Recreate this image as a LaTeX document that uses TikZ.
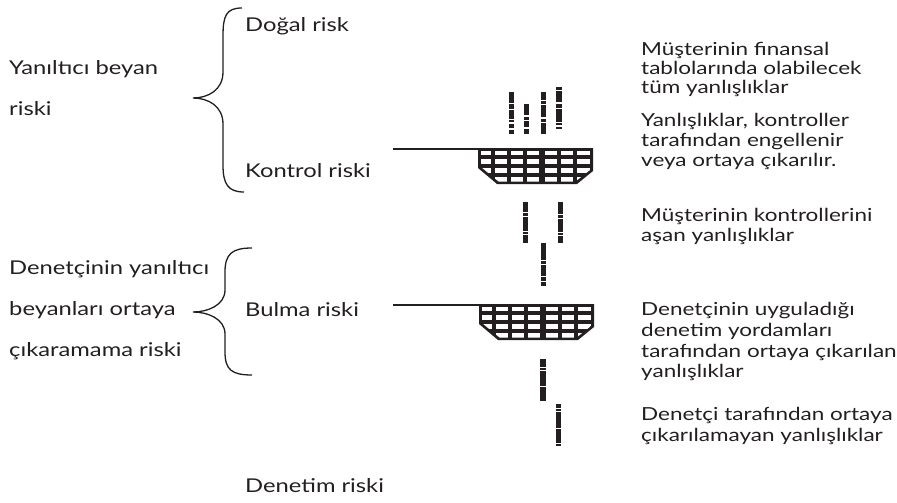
\documentclass[tikz,border=0pt]{standalone}
\usepackage{fontspec}
\setmainfont{Lato}[FakeStretch=1.25]
\definecolor{ink}{HTML}{231F20}
\tikzset{
 lbl/.style={anchor=mid west, inner sep=0pt, text=ink, font=\fontsize{19}{22}\selectfont},
 rlbl/.style={lbl, font=\fontsize{18}{22}\selectfont},
 bracestroke/.style={draw=ink, line width=1.3pt},
 rod/.style={draw=ink, line width=1.2pt},
}
\newcommand\basket[2]{%
 \begin{scope}[shift={(#1,#2)}]
  \fill[ink] (0,0) -- (115,0) -- (115,23) -- (99,36) -- (19,36) -- (0,20) -- cycle;
  \begin{scope}
   \clip (3,3) -- (112,3) -- (112,22) -- (97.5,33.5) -- (20.5,33.5) -- (3,19) -- cycle;
   \foreach \xa/\xb in {3/13, 17/29, 33/45, 49/61, 67/79, 83/95, 99/112}
     \foreach \ya/\yb in {3/7, 11/16, 20/25, 29/34}
       \fill[white] (\xa,\ya) rectangle (\xb,\yb);
  \end{scope}
 \end{scope}}
\newcommand\ebar[5]{%
 \fill[ink] ({#1-#4},#2) rectangle ({#1+#4},#3);
 \foreach \f in {#5}
  \fill[white] ({#1-#4-1},{#2+\f*(#3-#2)-0.6}) rectangle ({#1+#4+1},{#2+\f*(#3-#2)+0.6});}
\begin{document}
\begin{tikzpicture}[x=1pt,y=-1pt]
\useasboundingbox (0,0) rectangle (897,503);
% left texts
\node[lbl] (yb1) at (9,72) {Yanıltıcı beyan};
\node[lbl] (yb2) at (9,113) {riski};
\node[lbl] (dy1) at (9,272) {Denetçinin yanıltıcı};
\node[lbl] (dy2) at (9,313) {beyanları ortaya};
\node[lbl] (dy3) at (9,354) {çıkaramama riski};
\node[lbl] (dr) at (245,29) {Doğal risk};
\node[lbl] (kr) at (245,175) {Kontrol riski};
\node[lbl] (br) at (245,314) {Bulma riski};
\node[lbl] (der) at (245,490) {Denetim riski};
% right texts
\node[rlbl] (p1a) at (641,53) {Müşterinin finansal};
\node[rlbl] (p1b) at (641,72) {tablolarında olabilecek};
\node[rlbl] (p1c) at (641,91) {tüm yanlışlıklar};
\node[rlbl] (p2a) at (641,124) {Yanlışlıklar, kontroller};
\node[rlbl] (p2b) at (641,144) {tarafından engellenir};
\node[rlbl] (p2c) at (641,164) {veya ortaya çıkarılır.};
\node[rlbl] (p3a) at (641,219) {Müşterinin kontrollerini};
\node[rlbl] (p3b) at (641,239) {aşan yanlışlıklar};
\node[rlbl] (p4a) at (641,313) {Denetçinin uyguladığı};
\node[rlbl] (p4b) at (641,334) {denetim yordamları};
\node[rlbl] (p4c) at (641,355) {tarafından ortaya çıkarılan};
\node[rlbl] (p4d) at (641,375) {yanlışlıklar};
\node[rlbl] (p5a) at (641,418) {Denetçi tarafından ortaya};
\node[rlbl] (p5b) at (641,439) {çıkarılamayan yanlışlıklar};
% braces
\draw[bracestroke] (242,8) .. controls (226,8) and (223,16) .. (223,36) -- (223,72)
  .. controls (223,90) and (208,98) .. (193,98)
  .. controls (208,98) and (223,106) .. (223,124) -- (223,165)
  .. controls (223,184) and (228,192) .. (244,192);
\draw[bracestroke] (252,248) .. controls (232,248) and (225,254) .. (225,272) -- (225,290)
  .. controls (225,305) and (208,312) .. (193,312)
  .. controls (208,312) and (225,319) .. (225,334) -- (225,352)
  .. controls (225,370) and (232,375) .. (252,375);
% filter rods
\coordinate (r1) at (393,149);
\coordinate (b1) at (479,149);
\coordinate (r2) at (393,305);
\coordinate (b2) at (480,305);
\draw[rod] (r1) -- (b1);
\draw[rod] (r2) -- (b2);
\basket{478}{148}
\basket{479}{304}
% misstatement bars
\ebar{511}{92}{134}{2.5}{0.27,0.41,0.66,0.74,0.88}
\ebar{526}{104}{134}{2.5}{0.4,0.55,0.8}
\ebar{543}{92}{134}{2.5}{0.2,0.3,0.62,0.72}
\ebar{559}{87}{129}{3}{0.08,0.38,0.52,0.85,0.93}
\ebar{525}{202}{243}{2.5}{0.25,0.35,0.72,0.8}
\ebar{560}{202}{243}{2.5}{0.3,0.4,0.75,0.82}
\ebar{543}{243}{286}{2.5}{0.4,0.5,0.78,0.9}
\ebar{543}{359}{401}{3}{0.2,0.28,0.66}
\ebar{558}{404}{446}{2.5}{0.1,0.18,0.58,0.94}
\end{tikzpicture}
\end{document}
